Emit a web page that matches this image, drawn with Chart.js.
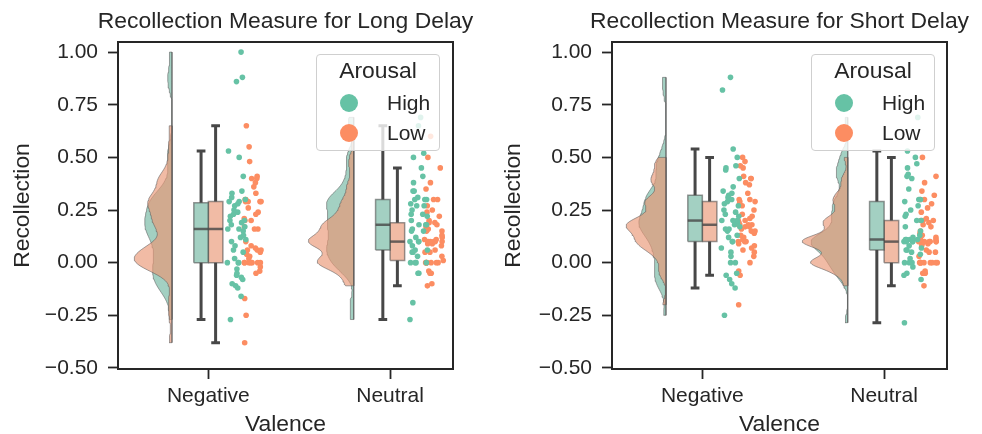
<!DOCTYPE html>
<html>
<head>
<meta charset="utf-8">
<script src="https://cdn.jsdelivr.net/npm/chart.js@4.4.1/dist/chart.umd.min.js"></script>
<style>
  html, body { margin: 0; padding: 0; background: #fff; }
  #wrap { position: relative; width: 982px; height: 434px; overflow: hidden;
          font-family: "Liberation Sans", Arial, sans-serif; color: #262626; }
  canvas { position: absolute; top: 0; }
  .legend { position: absolute; top: 54px; width: 124px; height: 97px; box-sizing: border-box;
            background: rgba(255,255,255,0.8); border: 1px solid #cfcfcf; border-radius: 4px; }
  .legend .ttl { position: absolute; left: 0; right: 0; top: 5px; text-align: center;
                 font-size: 22.9px; line-height: 21px; }
  .legend .dot { position: absolute; left: 23px; width: 18px; height: 18px; border-radius: 50%; }
  .legend .lab { position: absolute; left: 70px; font-size: 21px; line-height: 21px; }
</style>
</head>
<body>
<div id="wrap">
  <canvas id="longChart" width="571" height="434" style="left:0"></canvas>
  <canvas id="shortChart" width="577" height="434" style="left:491px"></canvas>
</div>
<script>
// categories / hue levels / ticks
const categories = ["Negative", "Neutral"];
const arousal = ["High", "Low"];
const yTicks = [-0.5, -0.25, 0, 0.25, 0.5, 0.75, 1.0];
const titles = ["Recollection Measure for Long Delay", "Recollection Measure for Short Delay"];

// recollection scores
const longNegHigh = [-0.27, -0.16, -0.12, -0.11, -0.1, -0.08, -0.07, -0.06, -0.05, -0.03, 0.0, 0.0, 0.0, 0.02, 0.05, 0.06, 0.08, 0.1, 0.11, 0.12, 0.13, 0.15, 0.16, 0.16, 0.17, 0.18, 0.19, 0.2, 0.2, 0.22, 0.23, 0.24, 0.25, 0.27, 0.28, 0.29, 0.29, 0.3, 0.31, 0.33, 0.34, 0.41, 0.5, 0.53, 0.86, 0.88, 1.0];
const longNegLow = [-0.38, -0.25, -0.17, -0.05, -0.04, -0.02, 0.0, 0.0, 0.0, 0.0, 0.0, 0.0, 0.0, 0.02, 0.03, 0.04, 0.05, 0.06, 0.06, 0.06, 0.07, 0.08, 0.1, 0.16, 0.16, 0.17, 0.2, 0.2, 0.21, 0.23, 0.24, 0.26, 0.29, 0.29, 0.29, 0.29, 0.3, 0.3, 0.33, 0.36, 0.38, 0.4, 0.4, 0.41, 0.48, 0.55, 0.65];
const longNeuHigh = [-0.27, -0.19, -0.05, -0.05, 0.0, 0.0, 0.0, 0.0, 0.03, 0.05, 0.05, 0.06, 0.06, 0.08, 0.1, 0.1, 0.1, 0.12, 0.15, 0.15, 0.16, 0.18, 0.18, 0.18, 0.2, 0.22, 0.23, 0.23, 0.25, 0.27, 0.27, 0.28, 0.3, 0.3, 0.3, 0.31, 0.34, 0.34, 0.38, 0.41, 0.45, 0.5, 0.52, 0.65, 0.69];
const longNeuLow = [-0.11, -0.1, -0.05, -0.05, -0.04, 0.0, 0.0, 0.0, 0.0, 0.0, 0.0, 0.0, 0.01, 0.03, 0.05, 0.05, 0.06, 0.08, 0.09, 0.09, 0.1, 0.1, 0.1, 0.1, 0.1, 0.11, 0.11, 0.12, 0.13, 0.15, 0.15, 0.16, 0.17, 0.18, 0.18, 0.19, 0.19, 0.2, 0.22, 0.24, 0.25, 0.27, 0.3, 0.3, 0.35, 0.38, 0.45, 0.5, 0.6];
const shortNegHigh = [-0.25, -0.12, -0.1, -0.08, -0.06, -0.05, 0.0, 0.0, 0.03, 0.05, 0.07, 0.1, 0.1, 0.12, 0.13, 0.15, 0.16, 0.16, 0.17, 0.18, 0.19, 0.2, 0.2, 0.2, 0.22, 0.23, 0.24, 0.25, 0.27, 0.28, 0.29, 0.3, 0.31, 0.32, 0.33, 0.34, 0.36, 0.4, 0.44, 0.45, 0.46, 0.5, 0.54, 0.82, 0.88];
const shortNegLow = [-0.2, -0.06, -0.04, 0.0, 0.03, 0.05, 0.06, 0.07, 0.08, 0.09, 0.1, 0.1, 0.1, 0.11, 0.12, 0.13, 0.14, 0.15, 0.15, 0.16, 0.17, 0.17, 0.18, 0.18, 0.18, 0.18, 0.19, 0.2, 0.2, 0.21, 0.22, 0.23, 0.25, 0.27, 0.28, 0.29, 0.29, 0.3, 0.3, 0.33, 0.37, 0.38, 0.4, 0.4, 0.41, 0.45, 0.46, 0.48, 0.5];
const shortNeuHigh = [-0.285, -0.08, -0.06, -0.05, -0.02, 0.0, 0.0, 0.0, 0.02, 0.04, 0.05, 0.06, 0.06, 0.07, 0.08, 0.1, 0.1, 0.1, 0.1, 0.11, 0.11, 0.11, 0.11, 0.12, 0.13, 0.15, 0.17, 0.2, 0.2, 0.22, 0.23, 0.25, 0.27, 0.29, 0.3, 0.3, 0.35, 0.4, 0.41, 0.42, 0.45, 0.47, 0.5, 0.53, 0.69];
const shortNeuLow = [-0.11, -0.05, -0.05, -0.04, 0.0, 0.0, 0.0, 0.0, 0.0, 0.0, 0.0, 0.0, 0.0, 0.03, 0.05, 0.05, 0.06, 0.08, 0.09, 0.09, 0.1, 0.1, 0.1, 0.1, 0.1, 0.1, 0.11, 0.11, 0.12, 0.13, 0.14, 0.15, 0.17, 0.18, 0.19, 0.2, 0.2, 0.2, 0.21, 0.24, 0.26, 0.28, 0.3, 0.3, 0.32, 0.34, 0.38, 0.41, 0.5];

const TXT = "#262626";
const FONT = '"Liberation Sans", Arial, sans-serif';
const strong = { High: "#66c2a5", Low: "#fc8d62" };
const soft = { High: "rgba(113,183,161,0.65)", Low: "rgba(233,150,117,0.65)" };

// layout of the raincloud pieces, in category units
const VIOLIN_EDGE = 0.2, VIOLIN_HALF = 0.25, BW = 0.2, GRID = 120;
const BOX_W = 0.08, CAP = 0.024;
const STRIP_AT = { High: 0.155, Low: 0.24 }, STRIP_W = 0.105;

function quantile(sorted, q) {
  const p = (sorted.length - 1) * q, lo = Math.floor(p), hi = Math.ceil(p);
  return sorted[lo] + (sorted[hi] - sorted[lo]) * (p - lo);
}
function boxStats(vals) {
  const s = [...vals].sort((a, b) => a - b);
  const q1 = quantile(s, 0.25), med = quantile(s, 0.5), q3 = quantile(s, 0.75);
  const iqr = q3 - q1;
  const hi = Math.max(...s.filter(v => v <= q3 + 1.5 * iqr));
  const lo = Math.min(...s.filter(v => v >= q1 - 1.5 * iqr));
  return { q1, med, q3, hi, lo };
}
function kde(vals) {
  const n = vals.length;
  const mean = vals.reduce((a, b) => a + b, 0) / n;
  const sd = Math.sqrt(vals.reduce((a, v) => a + (v - mean) ** 2, 0) / (n - 1));
  const h = BW * sd;
  const lo = Math.min(...vals), hi = Math.max(...vals);
  const grid = [], dens = [];
  for (let k = 0; k < GRID; k++) {
    const y = lo + (hi - lo) * k / (GRID - 1);
    let s = 0;
    vals.forEach(v => { s += Math.exp(-0.5 * ((y - v) / h) ** 2); });
    grid.push(y);
    dens.push(s / (n * h * Math.sqrt(2 * Math.PI)));
  }
  return { grid, dens };
}
function jitter(i) {
  const t = Math.sin(i * 12.9898 + 78.233) * 43758.5453;
  return t - Math.floor(t) - 0.5;
}

function buildDatasets(groups) {
  const kdes = groups.map(g => kde(g.values));
  const peak = Math.max(...kdes.map(k => Math.max(...k.dens)));
  const sets = [];
  groups.forEach((g, gi) => {
    const pos = g.cat;
    const k = kdes[gi];
    const edge = pos - VIOLIN_EDGE;
    const shape = k.grid.map((y, j) => ({ x: edge - k.dens[j] / peak * VIOLIN_HALF, y }));
    shape.push({ x: edge, y: k.grid[k.grid.length - 1] }, { x: edge, y: k.grid[0] }, { ...shape[0] });
    sets.push({
      data: shape, showLine: true, fill: "shape", pointRadius: 0,
      backgroundColor: soft[g.hue], borderColor: "rgba(90,90,90,0.55)", borderWidth: 1,
      order: g.hue === "High" ? 6 : 5
    });

    const s = boxStats(g.values);
    const bx0 = pos + (g.hue === "High" ? -BOX_W : 0), bx1 = bx0 + BOX_W, c = (bx0 + bx1) / 2;
    sets.push({
      data: [{ x: bx0, y: s.q1 }, { x: bx1, y: s.q1 }, { x: bx1, y: s.q3 }, { x: bx0, y: s.q3 }, { x: bx0, y: s.q1 }],
      showLine: true, fill: "shape", pointRadius: 0,
      backgroundColor: soft[g.hue], borderColor: "rgba(70,70,70,0.55)", borderWidth: 1.5, order: 4
    });
    sets.push({
      data: [
        { x: c, y: s.q3 }, { x: c, y: s.hi }, { x: c, y: null },
        { x: c - CAP, y: s.hi }, { x: c + CAP, y: s.hi }, { x: c, y: null },
        { x: c, y: s.q1 }, { x: c, y: s.lo }, { x: c, y: null },
        { x: c - CAP, y: s.lo }, { x: c + CAP, y: s.lo }
      ],
      showLine: true, pointRadius: 0, borderColor: "#474747", borderWidth: 3, order: 3
    });
    sets.push({
      data: [{ x: bx0, y: s.med }, { x: bx1, y: s.med }],
      showLine: true, pointRadius: 0, borderColor: "rgba(70,70,70,0.8)", borderWidth: 2.5, order: 3
    });
  });

  // strip points, one dataset per arousal level
  arousal.forEach(hue => {
    const pts = [];
    let i = 0;
    groups.filter(g => g.hue === hue).forEach(g => {
      g.values.forEach(v => {
        pts.push({ x: g.cat + STRIP_AT[hue] + jitter(i + g.cat * 97 + (hue === "Low" ? 311 : 0)) * STRIP_W, y: v });
        i++;
      });
    });
    sets.push({
      data: pts, showLine: false, pointRadius: 2.8, pointBorderWidth: 0,
      backgroundColor: strong[hue], order: 1
    });
  });
  return sets;
}

function makeChart(id, title, groups, sideW) {
  const tickFont = { family: FONT, size: 21 };
  const labelFont = { family: FONT, size: 22.9, lineHeight: 0.8 };
  new Chart(document.getElementById(id), {
    type: "scatter",
    data: { datasets: buildDatasets(groups) },
    options: {
      responsive: false, animation: false, devicePixelRatio: 1,
      layout: { padding: 0 },
      plugins: {
        legend: { display: false },
        tooltip: { enabled: false },
        title: {
          display: true, text: title, color: TXT,
          font: { family: FONT, size: 22.9, weight: "normal", lineHeight: 1 },
          padding: { top: 10.6, bottom: 8.5 }
        }
      },
      scales: {
        x: {
          type: "linear", position: "bottom", min: -0.497, max: 1.346,
          afterBuildTicks: s => { s.ticks = categories.map((c, i) => ({ value: i })); },
          afterFit: s => { s.height = 65; },
          ticks: { callback: (v, i) => categories[i], font: tickFont, color: TXT, padding: 5, autoSkip: false, maxRotation: 0 },
          grid: { drawOnChartArea: false, drawTicks: true, tickLength: 10, tickColor: TXT, tickWidth: 1.8 },
          border: { display: true, color: TXT, width: 2 },
          title: { display: true, text: "Valence", font: labelFont, color: TXT, padding: 0 }
        },
        y: {
          type: "linear", position: "left", min: -0.505, max: 1.048,
          afterBuildTicks: s => { s.ticks = yTicks.map(v => ({ value: v })); },
          afterFit: s => { s.width = sideW; },
          ticks: { callback: v => v.toFixed(2).replace("-", "\u2212"), font: tickFont, color: TXT, padding: 10 },
          grid: { drawOnChartArea: false, drawTicks: true, tickLength: 10, tickColor: TXT, tickWidth: 1.8 },
          border: { display: true, color: TXT, width: 2 },
          title: { display: true, text: "Recollection", font: labelFont, color: TXT, padding: { top: 13.5, bottom: 0 } }
        },
        x2: {
          type: "linear", position: "top", min: 0, max: 1,
          afterFit: s => { s.height = 0; },
          ticks: { display: false }, grid: { drawOnChartArea: false, drawTicks: false },
          border: { display: true, color: TXT, width: 2 }
        },
        // right spine; its width mirrors the left axis so the title centres over the plot
        y2: {
          type: "linear", position: "right", min: 0, max: 1,
          afterFit: s => { s.width = sideW; },
          ticks: { display: false }, grid: { drawOnChartArea: false, drawTicks: false },
          border: { display: true, color: TXT, width: 2 }
        }
      }
    }
  });
}

makeChart("longChart", titles[0], [
  { cat: 0, hue: "High", values: longNegHigh },
  { cat: 0, hue: "Low", values: longNegLow },
  { cat: 1, hue: "High", values: longNeuHigh },
  { cat: 1, hue: "Low", values: longNeuLow }
], 118);

makeChart("shortChart", titles[1], [
  { cat: 0, hue: "High", values: shortNegHigh },
  { cat: 0, hue: "Low", values: shortNegLow },
  { cat: 1, hue: "High", values: shortNeuHigh },
  { cat: 1, hue: "Low", values: shortNeuLow }
], 121);

// legends ("Arousal") placed inside each panel
[316, 811].forEach(left => {
  const box = document.createElement("div");
  box.className = "legend";
  box.style.left = left + "px";
  let html = '<div class="ttl">Arousal</div>';
  arousal.forEach((hue, i) => {
    html += `<div class="dot" style="top:${39 + i * 30.3}px;background:${strong[hue]}"></div>`;
    html += `<div class="lab" style="top:${37.2 + i * 30}px">${hue}</div>`;
  });
  box.innerHTML = html;
  document.getElementById("wrap").appendChild(box);
});
</script>
</body>
</html>
